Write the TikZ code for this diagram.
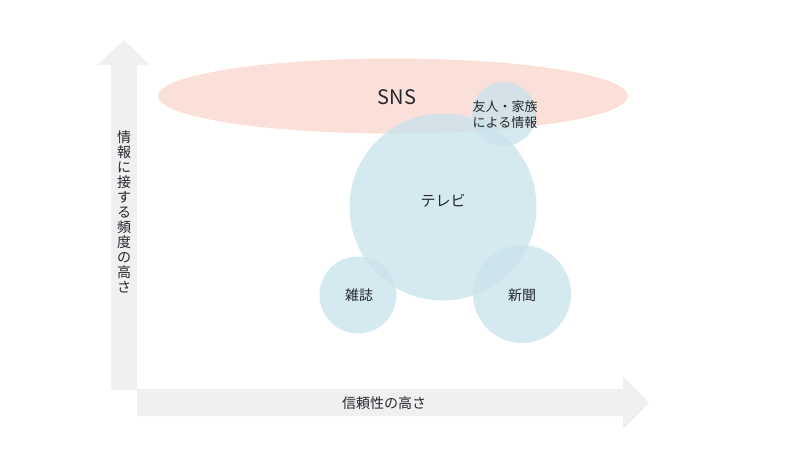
\documentclass[tikz,border=0pt]{standalone}
\usepackage{fontspec}
\setmainfont{Noto Sans CJK JP}
\usetikzlibrary{shapes.geometric}
\definecolor{arrowgray}{HTML}{F0F0F0}
\definecolor{snspink}{HTML}{FADAD3}
\definecolor{mediablue}{HTML}{CBE3EC}
\definecolor{txt}{HTML}{23272E}
\tikzset{
  axisarrow/.style={fill=arrowgray, draw=none},
  bubble/.style={circle, fill=mediablue, fill opacity=0.8, draw=none, inner sep=0pt, text opacity=1},
  lbl/.style={text=txt, font=\fontsize{14}{16}\selectfont, align=center, inner sep=0pt},
}
\begin{document}
\begin{tikzpicture}[x=1pt,y=-1pt]
\useasboundingbox (0,0) rectangle (800,450);
% axes
\path[axisarrow] (111,390) -- (111,65) -- (97,65) -- (124,40) -- (150,65) -- (137,65) -- (137,390) -- cycle;
\path[axisarrow] (137,389) -- (623,389) -- (623,377) -- (649,403) -- (623,429) -- (623,416) -- (137,416) -- cycle;
\node[lbl, font=\fontsize{14}{15}\selectfont] (ylabel) at (124,212) {情\\報\\に\\接\\す\\る\\頻\\度\\の\\高\\さ};
\node[lbl] (xlabel) at (384,403) {信頼性の高さ};
% SNS ellipse
\node[ellipse, fill=snspink, fill opacity=0.85, draw=none, minimum width=470, minimum height=75, inner sep=0pt] (sns) at (393,96) {};
\node[text=txt, font=\fontsize{20}{21}\selectfont, inner sep=0pt] (snslbl) at (397,97) {SNS};
% bubbles
\node[bubble, minimum size=64] (friend) at (504,114) {};
\node[bubble, minimum size=187] (tv) at (443,207) {};
\node[bubble, minimum size=77] (mag) at (358,295) {};
\node[bubble, minimum size=98] (news) at (522,294) {};
\node[lbl, font=\fontsize{13}{16}\selectfont] (friendlbl) at (505,115) {友人・家族\\による情報};
\node[lbl, font=\fontsize{15}{16}\selectfont] (tvlbl) at (443,201) {テレビ};
\node[lbl] (maglbl) at (359,295) {雑誌};
\node[lbl] (newslbl) at (522,295) {新聞};
\end{tikzpicture}
\end{document}
